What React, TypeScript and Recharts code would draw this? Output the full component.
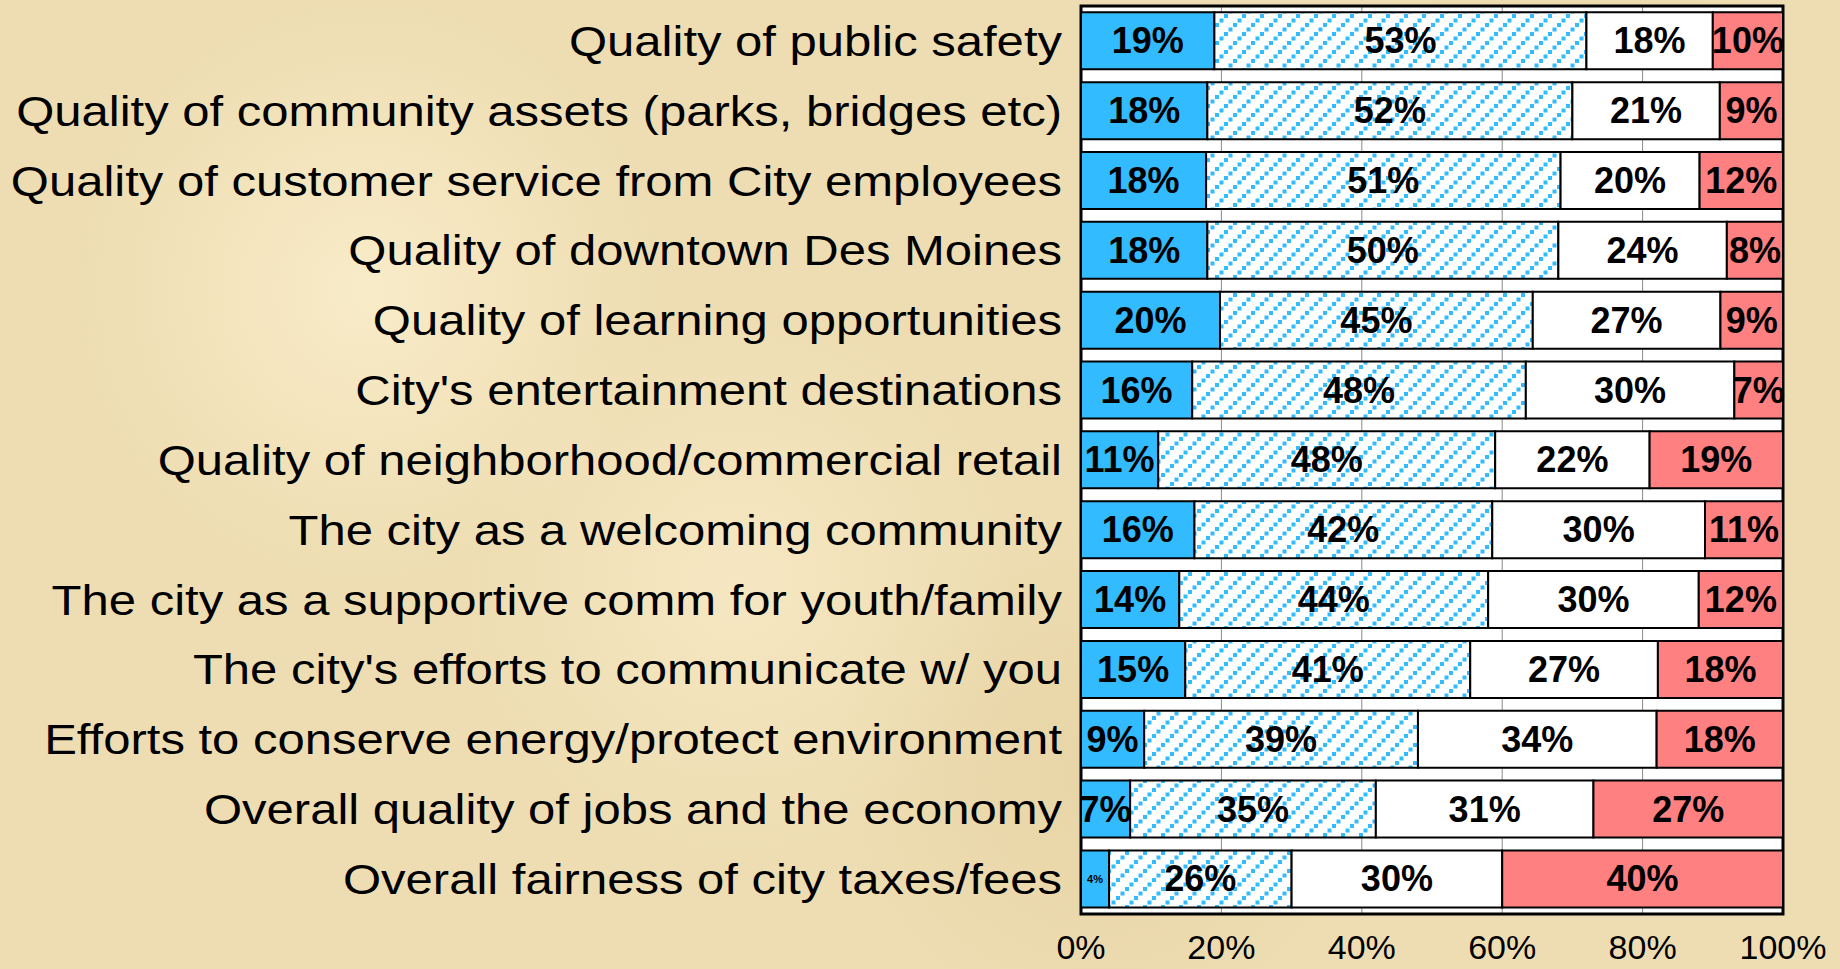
import React from 'react';
import { BarChart, Bar, XAxis, YAxis, CartesianGrid, LabelList, ReferenceArea } from 'recharts';

const categories = [
  'Quality of public safety',
  'Quality of community assets (parks, bridges etc)',
  'Quality of customer service from City employees',
  'Quality of downtown Des Moines',
  'Quality of learning opportunities',
  "City's entertainment destinations",
  'Quality of neighborhood/commercial retail',
  'The city as a welcoming community',
  'The city as a supportive comm for youth/family',
  "The city's efforts to communicate w/ you",
  'Efforts to conserve energy/protect environment',
  'Overall quality of jobs and the economy',
  'Overall fairness of city taxes/fees',
];

const excellent = [19, 18, 18, 18, 20, 16, 11, 16, 14, 15, 9, 7, 4];
const good = [53, 52, 51, 50, 45, 48, 48, 42, 44, 41, 39, 35, 26];
const fair = [18, 21, 20, 24, 27, 30, 22, 30, 30, 27, 34, 31, 30];
const poor = [10, 9, 12, 8, 9, 7, 19, 11, 12, 18, 18, 27, 40];

const xTicks = [0, 0.2, 0.4, 0.6, 0.8, 1];

const data = categories.map((name, i) => ({
  name,
  excellent: excellent[i],
  good: good[i],
  fair: fair[i],
  poor: poor[i],
}));

const FONT = '"Liberation Sans", Arial, sans-serif';

function renderLabel(props: any) {
  const { x, y, width, height, value } = props;
  const small = value < 5;
  return (
    <text
      x={x + width / 2}
      y={y + height / 2}
      textAnchor="middle"
      dominantBaseline="central"
      fontFamily={FONT}
      fontWeight="bold"
      fontSize={small ? 11 : 36}
      fill="#000"
    >
      {`${value}%`}
    </text>
  );
}

// the original labels are stretched a bit wider than plain Arial
function CategoryTick(props: any) {
  const { x, y, payload } = props;
  return (
    <text
      transform={`translate(${x},${y}) scale(1.14,1)`}
      textAnchor="end"
      dominantBaseline="central"
      fontFamily={FONT}
      fontSize={43}
      fill="#000"
    >
      {payload.value}
    </text>
  );
}

export default function App() {
  return (
    <div
      style={{
        position: 'absolute',
        left: 0,
        top: 0,
        width: 1840,
        height: 969,
        background:
          'radial-gradient(circle at 20% 30%, rgba(255,245,215,0.6) 0, rgba(255,245,215,0) 18%),' +
          'radial-gradient(circle at 60% 80%, rgba(225,205,155,0.5) 0, rgba(225,205,155,0) 20%),' +
          'radial-gradient(circle at 85% 20%, rgba(230,210,160,0.5) 0, rgba(230,210,160,0) 15%),' +
          'radial-gradient(circle at 40% 60%, rgba(250,238,205,0.6) 0, rgba(250,238,205,0) 22%),' +
          '#EEDDB2',
        overflow: 'hidden',
      }}
    >
      <BarChart
        width={1840}
        height={969}
        data={data}
        layout="vertical"
        stackOffset="expand"
        barCategoryGap="9%"
        margin={{ top: 6, right: 57, bottom: 0, left: 0 }}
      >
        <defs>
          <pattern id="hatch" width="18" height="18" patternUnits="userSpaceOnUse">
            <rect width="18" height="18" fill="#fff" />
            <rect x="0" y="14" width="4" height="4" fill="#33BBFF" />
            <rect x="4.5" y="9.5" width="4" height="4" fill="#33BBFF" />
            <rect x="9" y="5" width="4" height="4" fill="#33BBFF" />
            <rect x="13.5" y="0.5" width="4" height="4" fill="#33BBFF" />
          </pattern>
        </defs>
        <CartesianGrid horizontal={false} stroke="#8a8a8a" strokeWidth={1} fill="#fff" fillOpacity={1} />
        <XAxis
          type="number"
          ticks={xTicks}
          domain={[0, 1]}
          tickFormatter={(v) => `${Math.round(v * 100)}%`}
          axisLine={false}
          tickLine={false}
          tickSize={0}
          tickMargin={21}
          height={55}
          interval={0}
          tick={{ fill: '#000', fontSize: 34, fontFamily: FONT }}
        />
        <YAxis
          type="category"
          dataKey="name"
          width={1081}
          axisLine={false}
          tickLine={false}
          tickSize={0}
          tickMargin={19}
          interval={0}
          tick={<CategoryTick />}
        />
        <Bar dataKey="excellent" stackId="a" fill="#33BBFF" stroke="#000" strokeWidth={2} isAnimationActive={false}>
          <LabelList dataKey="excellent" content={renderLabel} />
        </Bar>
        <Bar dataKey="good" stackId="a" fill="url(#hatch)" stroke="#000" strokeWidth={2} isAnimationActive={false}>
          <LabelList dataKey="good" content={renderLabel} />
        </Bar>
        <Bar dataKey="fair" stackId="a" fill="#fff" stroke="#000" strokeWidth={2} isAnimationActive={false}>
          <LabelList dataKey="fair" content={renderLabel} />
        </Bar>
        <Bar dataKey="poor" stackId="a" fill="#FF8080" stroke="#000" strokeWidth={2} isAnimationActive={false}>
          <LabelList dataKey="poor" content={renderLabel} />
        </Bar>
        <ReferenceArea x1={0} x2={1} fill="none" stroke="#000" strokeWidth={3} ifOverflow="visible" />
      </BarChart>
    </div>
  );
}
